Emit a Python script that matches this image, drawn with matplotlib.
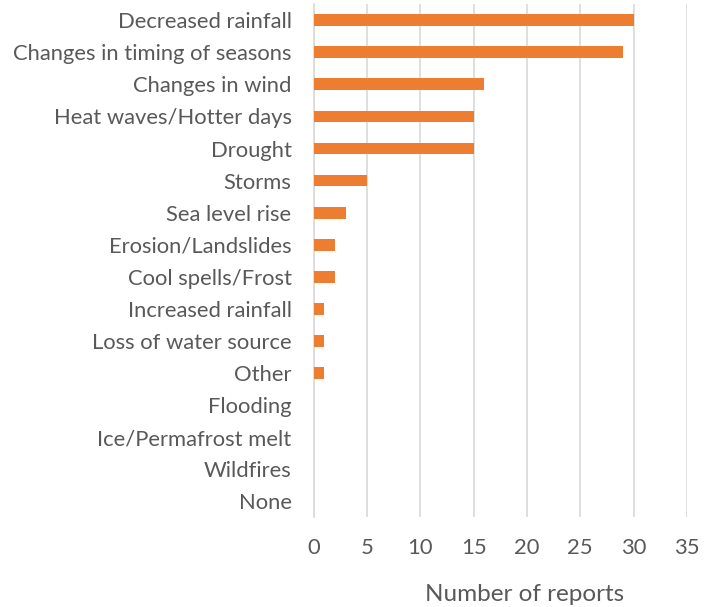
import matplotlib
matplotlib.use('Agg')
import matplotlib.pyplot as plt

categories = ['Decreased rainfall', 'Changes in timing of seasons', 'Changes in wind',
              'Heat waves/Hotter days', 'Drought', 'Storms', 'Sea level rise',
              'Erosion/Landslides', 'Cool spells/Frost', 'Increased rainfall',
              'Loss of water source', 'Other', 'Flooding', 'Ice/Permafrost melt',
              'Wildfires', 'None']
reports = [30, 29, 16, 15, 15, 5, 3, 2, 2, 1, 1, 1, 0, 0, 0, 0]
xticks = [0, 5, 10, 15, 20, 25, 30, 35]

plt.rcParams['font.family'] = ['Lato', 'DejaVu Sans']
txt_color = '#595959'

fig = plt.figure(figsize=(7.23, 6.07), dpi=100)
ax = fig.add_axes([0.434, 0.148, 0.516, 0.845])

ypos = list(range(len(categories)))
ax.barh(ypos, reports, height=0.37, color='#ED7D31', zorder=3)
ax.set_yticks(ypos)
ax.set_yticklabels(categories, fontsize=15.8, color=txt_color)
ax.set_ylim(len(categories) - 0.5, -0.5)

ax.set_xlim(0, 35)
ax.set_xticks(xticks)
ax.set_xticklabels([str(t) for t in xticks], fontsize=15.8, color=txt_color)
ax.tick_params(axis='x', length=0, pad=15)
ax.tick_params(axis='y', length=0, pad=16)
ax.xaxis.grid(True, color='#D9D9D9', linewidth=1.2, zorder=0)
ax.set_xlabel('Number of reports', fontsize=17.5, color=txt_color)
# label sits a bit right of the plot centre in the original
ax.xaxis.set_label_coords(0.566, -0.13)

for side in ['top', 'right', 'bottom']:
    ax.spines[side].set_visible(False)
ax.spines['left'].set_color('#D9D9D9')
ax.spines['left'].set_linewidth(1.2)

fig.savefig('out.png', dpi=100)
